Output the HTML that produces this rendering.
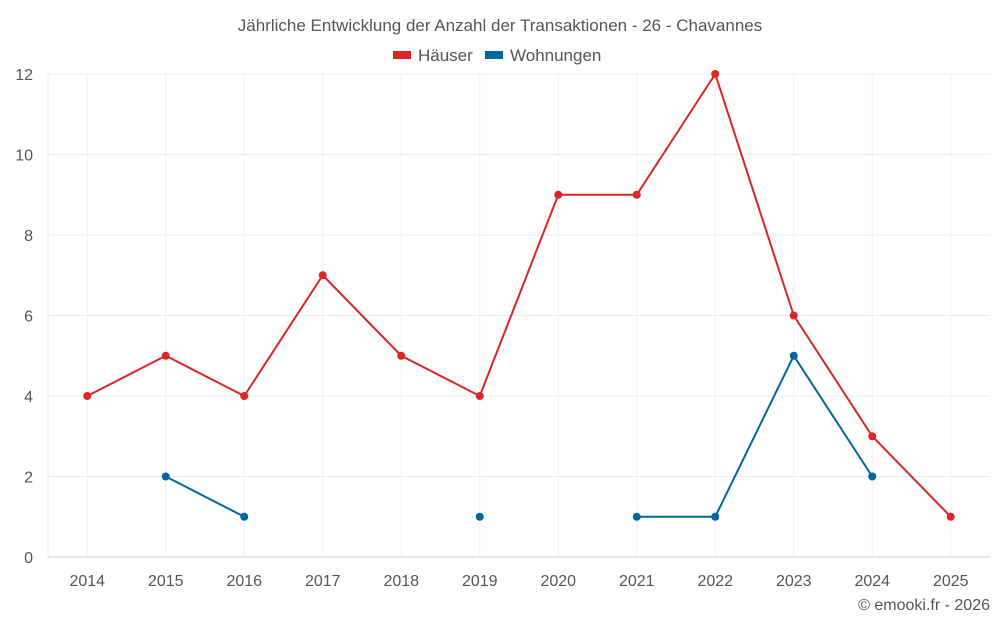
<!DOCTYPE html>
<html><head><meta charset="utf-8"><style>
body{margin:0;background:#fff;font-family:"Liberation Sans",sans-serif;}
svg text{font-family:"Liberation Sans",sans-serif;fill:#555;}
</style></head><body>
<svg id="c" width="1000" height="625">
<text x="500" y="31" text-anchor="middle" font-size="17">Jährliche Entwicklung der Anzahl der Transaktionen - 26 - Chavannes</text>
<g>
<g><rect x="393" y="51" width="18" height="8" fill="#d92626"/><text x="418" y="61" font-size="17">Häuser</text></g>
<g><rect x="485" y="51" width="18" height="8" fill="#00669e"/><text x="510" y="61" font-size="17">Wohnungen</text></g>
</g>
<g id="grid"></g><g id="axes"></g><g id="series"></g>
<text x="990" y="610" text-anchor="end" font-size="16">© emooki.fr - 2026</text>
</svg>
<script>
const categories=["2014","2015","2016","2017","2018","2019","2020","2021","2022","2023","2024","2025"];
const haeuser=[4,5,4,7,5,4,9,9,12,6,3,1];
const wohnungen=[null,2,1,null,null,1,null,1,1,5,2,null];
const yTicks=[0,2,4,6,8,10,12];
const L=48,R=990,T=74,B=557,yMax=12;
const bw=(R-L)/categories.length;
const x=i=>L+bw*(i+0.5);
const y=v=>B-(v/yMax)*(B-T);
const NS="http://www.w3.org/2000/svg";
function mk(t,a,p){const e=document.createElementNS(NS,t);for(const k in a)e.setAttribute(k,a[k]);p.appendChild(e);return e;}
const g=document.getElementById('grid'),ax=document.getElementById('axes'),s=document.getElementById('series');
yTicks.forEach(v=>{
 const l=mk('line',{x1:L,x2:R,y1:y(v),y2:y(v),stroke:v===0?'#ccc':'#ebebeb'},g);
 
 
 const t=mk('text',{x:33,y:y(v)+6,'text-anchor':'end','font-size':16},ax);t.textContent=v;
 
 
});
const lb=mk('line',{x1:L,x2:L,y1:T,y2:B,stroke:'#ebebeb'},g);


categories.forEach((c,i)=>{
 const l=mk('line',{x1:x(i),x2:x(i),y1:T,y2:B,stroke:'#f0f0f0'},g);
 
 
 const t=mk('text',{x:x(i),y:586,'text-anchor':'middle','font-size':16},ax);t.textContent=c;
 
 
});
function draw(data,color,name){
 let seg=[];
 const flush=()=>{if(seg.length>1){const p=mk('polyline',{points:seg.join(' '),fill:'none',stroke:color,'stroke-width':2},s);
  
  }seg=[];};
 data.forEach((v,i)=>{if(v===null){flush();return;}seg.push(x(i)+','+y(v));});
 flush();
 data.forEach((v,i)=>{if(v===null)return;const c=mk('circle',{cx:x(i),cy:y(v),r:4,fill:color},s);
  
  });
}
draw(haeuser,'#d92626','haeuser');
draw(wohnungen,'#00669e','wohnungen');
</script>
</body></html>
